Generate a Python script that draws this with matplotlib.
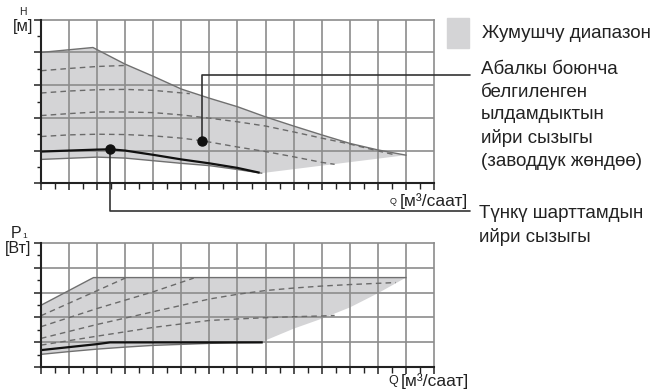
import numpy as np
import matplotlib
matplotlib.use("Agg")
import matplotlib.pyplot as plt
from matplotlib.ticker import MultipleLocator
from matplotlib.patches import Rectangle

plt.rcParams['font.family'] = ['Liberation Sans', 'DejaVu Sans']

# --- H(Q) panel -------------------------------------------------------------
q_h_top = [0, 1.85, 3, 4, 5, 6, 7, 8, 9, 10, 11, 12, 13]
h_top = [4.0, 4.15, 3.64, 3.27, 2.88, 2.6, 2.34, 2.03, 1.75, 1.48, 1.22, 1.02, 0.86]
q_h_low = [0, 2, 3, 4, 5, 6, 6.93, 7.86]
h_low = [0.73, 0.8, 0.77, 0.69, 0.61, 0.54, 0.43, 0.31]

q_h_d1 = [0, 1, 2, 2.95]
h_d1 = [3.44, 3.51, 3.57, 3.6]
q_h_d2 = [0, 1, 2, 3, 4, 5.3]
h_d2 = [2.76, 2.82, 2.86, 2.87, 2.84, 2.74]
q_h_d3 = [0, 1, 2, 3, 4, 5, 6, 7, 8, 9, 10, 11, 12, 12.66]
h_d3 = [2.07, 2.13, 2.18, 2.18, 2.16, 2.09, 1.99, 1.88, 1.75, 1.57, 1.38, 1.2, 0.99, 0.86]
q_h_d4 = [0, 1, 2, 3, 4, 5, 5.74, 7, 8, 9, 10, 10.46]
h_d4 = [1.43, 1.48, 1.5, 1.49, 1.45, 1.38, 1.30, 1.11, 0.97, 0.81, 0.64, 0.58]

q_h_night = [0, 1, 2, 2.46, 3, 4, 5, 6, 7, 7.75]
h_night = [0.97, 1.0, 1.03, 1.04, 1.0, 0.87, 0.73, 0.61, 0.47, 0.33]

factory_pt = (5.74, 1.30)
night_pt = (2.46, 1.04)

# --- P1(Q) panel ------------------------------------------------------------
q_p_top = [0, 1.87, 13]
p_top = [2.49, 3.6, 3.6]
q_p_right = [13, 12, 11, 10, 9, 8, 7.86]
p_right = [3.6, 2.97, 2.4, 1.95, 1.55, 1.08, 1.0]
q_p_low = [0, 1, 2, 3, 4, 5, 6, 7, 7.86]
p_low = [0.52, 0.63, 0.73, 0.81, 0.88, 0.92, 0.96, 0.99, 1.0]

q_p_d1 = [0, 3.0]
p_d1 = [2.07, 3.58]
q_p_d2 = [0, 2, 4, 5.44]
p_d2 = [1.63, 2.36, 3.03, 3.58]
q_p_d3 = [0, 2, 4, 6, 7, 8, 9, 10, 11, 12, 12.64]
p_d3 = [1.16, 1.72, 2.23, 2.74, 2.93, 3.08, 3.18, 3.26, 3.32, 3.37, 3.40]
q_p_d4 = [0, 2, 4, 6, 7, 8, 9, 10, 10.46]
p_d4 = [0.89, 1.25, 1.6, 1.88, 1.94, 1.99, 2.03, 2.06, 2.08]

q_p_night = [0, 1, 2, 2.46, 3, 7.86]
p_night = [0.69, 0.81, 0.93, 1.0, 1.0, 1.0]

q_grid = np.arange(1, 14)
y_grid = np.arange(1, 5)

FILL = '#d4d4d6'
EDGE = '#707070'
DASH = '#6a6a6a'
GRID = '#8c8c8c'

W, H = 654, 389
fig = plt.figure(figsize=(W / 100, H / 100), dpi=100)
ax1 = fig.add_axes([41 / W, 1 - 183.3 / H, 393 / W, 163.6 / H])
ax2 = fig.add_axes([41 / W, 1 - 367.3 / H, 393 / W, 124.6 / H])


def style(ax):
    ax.set_xlim(0, 14)
    ax.set_ylim(0, 5)
    ax.xaxis.set_major_locator(MultipleLocator(1))
    ax.xaxis.set_minor_locator(MultipleLocator(0.5))
    ax.yaxis.set_major_locator(MultipleLocator(1))
    ax.yaxis.set_minor_locator(MultipleLocator(0.5))
    for s in ('top', 'right'):
        ax.spines[s].set_color(GRID)
        ax.spines[s].set_linewidth(1.2)
    for s in ('left', 'bottom'):
        ax.spines[s].set_color('#222222')
        ax.spines[s].set_linewidth(1.5)
        ax.spines[s].set_zorder(6)
    ax.tick_params(which='both', direction='out', color='#222222',
                   labelbottom=False, labelleft=False)
    ax.tick_params(which='major', length=5, width=1.1)
    ax.tick_params(which='minor', length=3, width=1.0)
    ax.tick_params(axis='x', which='minor', length=4)
    # grid sits on top of the shaded band, under the curves
    ax.vlines(q_grid, 0, 5, color=GRID, lw=1.2, zorder=2)
    ax.hlines(y_grid, 0, 14, color=GRID, lw=1.2, zorder=2)


style(ax1)
style(ax2)

# top panel
poly_q = q_h_top + [13] + [7.86] + q_h_low[::-1]
poly_h = h_top + [0.86] + [0.31] + h_low[::-1]
ax1.fill(poly_q, poly_h, color=FILL, lw=0, zorder=1)
ax1.plot(q_h_top, h_top, color=EDGE, lw=1.0, zorder=3)
ax1.plot(q_h_low, h_low, color=EDGE, lw=1.0, zorder=3)
for q, h in [(q_h_d1, h_d1), (q_h_d2, h_d2), (q_h_d3, h_d3), (q_h_d4, h_d4)]:
    ax1.plot(q, h, color=DASH, lw=1.0, dashes=(4, 3), zorder=3)
ax1.plot(q_h_night, h_night, color='#111111', lw=1.6, zorder=4)
ax1.plot(*factory_pt, 'o', color='#111111', ms=6.5, zorder=5)
ax1.plot(*night_pt, 'o', color='#111111', ms=6.5, zorder=5)

# bottom panel
poly_q = q_p_top + q_p_right[1:] + q_p_low[::-1][1:]
poly_p = p_top + p_right[1:] + p_low[::-1][1:]
ax2.fill(poly_q, poly_p, color=FILL, lw=0, zorder=1)
ax2.plot(q_p_top, p_top, color=EDGE, lw=1.0, zorder=3)
ax2.plot(q_p_low, p_low, color=EDGE, lw=1.0, zorder=3)
for q, p in [(q_p_d1, p_d1), (q_p_d2, p_d2), (q_p_d3, p_d3), (q_p_d4, p_d4)]:
    ax2.plot(q, p, color=DASH, lw=1.0, dashes=(4, 3), zorder=3)
ax2.plot(q_p_night, p_night, color='#111111', lw=1.6, zorder=4)

# leader lines
lead = dict(arrowstyle='-', color='#333333', lw=1.2, shrinkA=0, shrinkB=0,
            connectionstyle='angle,angleA=0,angleB=90,rad=0')
ax1.annotate('', xy=factory_pt, xycoords='data',
             xytext=(470, H - 75), textcoords='figure pixels',
             arrowprops=lead, annotation_clip=False)
ax1.annotate('', xy=night_pt, xycoords='data',
             xytext=(470, H - 211), textcoords='figure pixels',
             arrowprops=lead, annotation_clip=False)


# axis labels
def ftext(x, y, s, size, **kw):
    return fig.text(x / W, 1 - y / H, s, fontsize=size, color='#222222', **kw)


ftext(22.5, 12, 'H', 7.5, ha='center', va='center')
ftext(23, 27, '[м]', 12, ha='center', va='center')
ftext(16.5, 238.5, 'P', 11.5, ha='center', va='baseline')
ftext(24.5, 238.5, '1', 6, ha='center', va='baseline')
ftext(18.5, 248, '[Вт]', 11.5, ha='center', va='center')
ftext(397, 201, 'Q', 6.5, ha='right', va='center')
ftext(400, 201, '[м³/саат]', 12.5, ha='left', va='center')
ftext(398, 381, 'Q', 9, ha='right', va='center')
ftext(401, 381, '[м³/саат]', 12.5, ha='left', va='center')

# legend / descriptions
fig.patches.append(Rectangle((447 / W, 1 - 48 / H), 22 / W, 30 / H,
                             transform=fig.transFigure, color=FILL))
ftext(482, 33, 'Жумушчу диапазон', 13.5, ha='left', va='center')
ftext(481, 61, 'Абалкы боюнча\nбелгиленген\nылдамдыктын\nийри сызыгы\n(заводдук жөндөө)',
      13.5, ha='left', va='top', linespacing=1.43)
ftext(479, 205, 'Түнкү шарттамдын\nийри сызыгы', 13.5, ha='left', va='top',
      linespacing=1.43)

fig.savefig('out.png', dpi=100)
